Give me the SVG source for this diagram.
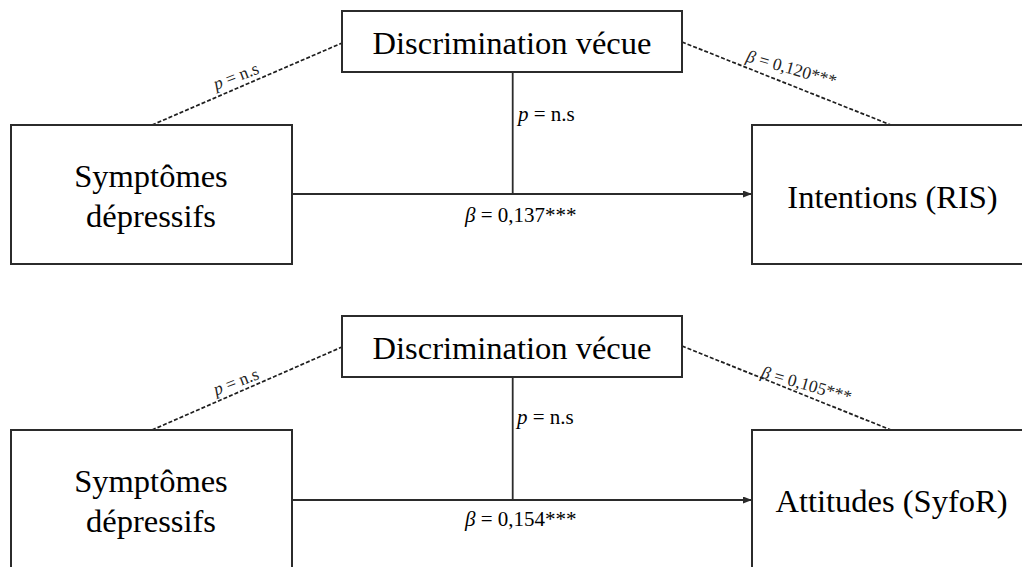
<svg xmlns="http://www.w3.org/2000/svg" width="1022" height="567" viewBox="0 0 1022 567">
  <style>
    .box { fill: #ffffff; stroke: #2b2b2b; stroke-width: 2; }
    .solid { fill: none; stroke: #2b2b2b; stroke-width: 1.8; }
    .dash { fill: none; stroke: #1e1e1e; stroke-width: 1.7; stroke-dasharray: 4 2; }
    .big { font-family: "Liberation Serif", "Times New Roman", serif; font-size: 32.5px; fill: #000; text-anchor: middle; }
    .lab { font-family: "Liberation Serif", "Times New Roman", serif; font-size: 21px; fill: #000; }
    .small { font-family: "Liberation Serif", "Times New Roman", serif; font-size: 17.5px; fill: #222; text-anchor: middle; }
    .it { font-style: italic; }
  </style>
  <defs>
    <marker id="arrow" markerWidth="10" markerHeight="8" refX="9" refY="3.5" orient="auto" markerUnits="userSpaceOnUse">
      <path d="M0,0 L9,3.5 L0,7 z" fill="#2b2b2b"/>
    </marker>
  </defs>
  <rect width="1022" height="567" fill="#ffffff"/>

  <g id="connectors">
    <!-- top model -->
    <line class="dash" x1="152" y1="125" x2="342" y2="43"/>
    <line class="dash" x1="682" y1="42" x2="891" y2="125"/>
    <line class="solid" x1="512.7" y1="72" x2="512.7" y2="194"/>
    <line class="solid" x1="292" y1="194" x2="752" y2="194" marker-end="url(#arrow)"/>
    <!-- bottom model -->
    <line class="dash" x1="152" y1="430" x2="342" y2="347"/>
    <line class="dash" x1="682" y1="346" x2="891" y2="430"/>
    <line class="solid" x1="512.7" y1="377" x2="512.7" y2="500"/>
    <line class="solid" x1="292" y1="500" x2="752" y2="500" marker-end="url(#arrow)"/>
  </g>

  <g id="labels">
    <text class="small" transform="translate(238,81.5) rotate(-21)"><tspan class="it">p</tspan> = n.s</text>
    <text class="small" transform="translate(790,74) rotate(16)"><tspan class="it">β</tspan> = 0,120***</text>
    <text class="lab" x="518" y="121"><tspan class="it">p</tspan> = n.s</text>
    <text class="lab" x="465" y="222"><tspan class="it">β</tspan> = 0,137***</text>

    <text class="small" transform="translate(238,387) rotate(-21)"><tspan class="it">p</tspan> = n.s</text>
    <text class="small" transform="translate(805,390) rotate(16)"><tspan class="it">β</tspan> = 0,105***</text>
    <text class="lab" x="517" y="424"><tspan class="it">p</tspan> = n.s</text>
    <text class="lab" x="465" y="526"><tspan class="it">β</tspan> = 0,154***</text>
  </g>

  <g id="disc-top">
    <rect class="box" x="342" y="11" width="340" height="61"/>
    <text class="big" x="512" y="53.5">Discrimination vécue</text>
  </g>
  <g id="sympt-top">
    <rect class="box" x="11" y="125" width="281" height="139"/>
    <text class="big" x="151" y="187">Symptômes</text>
    <text class="big" x="151" y="227">dépressifs</text>
  </g>
  <g id="intentions">
    <rect class="box" x="752" y="125" width="290" height="139"/>
    <text class="big" x="892.5" y="207.5">Intentions (RIS)</text>
  </g>

  <g id="disc-bottom">
    <rect class="box" x="342" y="316" width="340" height="61"/>
    <text class="big" x="512" y="358.5">Discrimination vécue</text>
  </g>
  <g id="sympt-bottom">
    <rect class="box" x="11" y="430" width="281" height="160"/>
    <text class="big" x="151" y="492">Symptômes</text>
    <text class="big" x="151" y="532">dépressifs</text>
  </g>
  <g id="attitudes">
    <rect class="box" x="752" y="430" width="290" height="160"/>
    <text class="big" x="891.5" y="511.5">Attitudes (SyfoR)</text>
  </g>
</svg>
